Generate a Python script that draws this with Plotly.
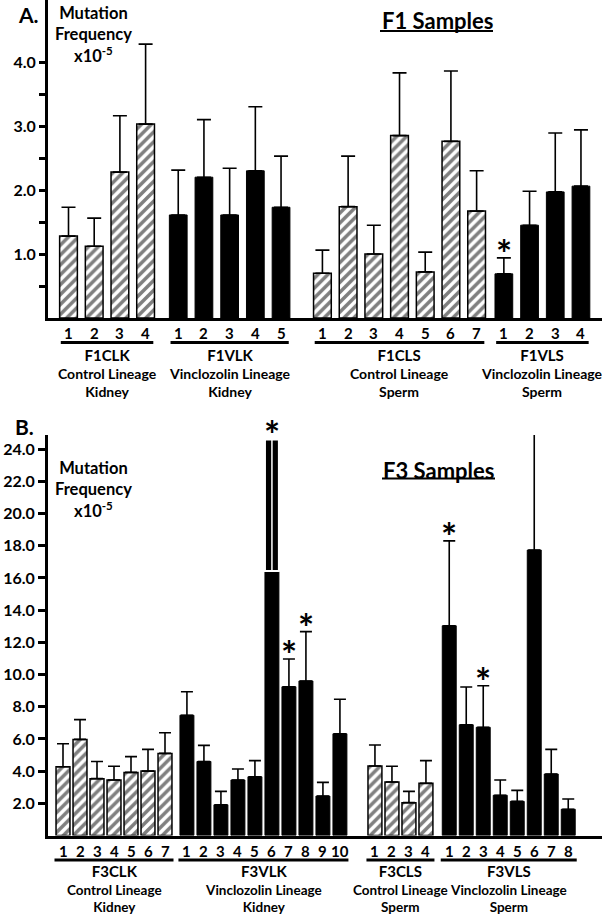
import plotly.graph_objects as go

# ---------------- data ----------------
# Panel A (F1)
f1_groups = ["F1CLK", "F1VLK", "F1CLS", "F1VLS"]
f1_lineage = ["Control Lineage", "Vinclozolin Lineage", "Control Lineage", "Vinclozolin Lineage"]
f1_tissue = ["Kidney", "Kidney", "Sperm", "Sperm"]
f1_control = [True, False, True, False]

f1_clk_mean = [1.28, 1.12, 2.28, 3.03]
f1_clk_sem = [0.45, 0.44, 0.88, 1.25]
f1_vlk_mean = [1.61, 2.20, 1.61, 2.30, 1.73]
f1_vlk_sem = [0.70, 0.90, 0.73, 1.00, 0.80]
f1_cls_mean = [0.70, 1.74, 1.00, 2.85, 0.72, 2.76, 1.67]
f1_cls_sem = [0.36, 0.79, 0.45, 0.98, 0.31, 1.10, 0.63]
f1_vls_mean = [0.69, 1.45, 1.97, 2.06]
f1_vls_sem = [0.25, 0.53, 0.92, 0.88]
f1_clk_sig = [0, 0, 0, 0]
f1_vlk_sig = [0, 0, 0, 0, 0]
f1_cls_sig = [0, 0, 0, 0, 0, 0, 0]
f1_vls_sig = [1, 0, 0, 0]

# Panel B (F3)
f3_groups = ["F3CLK", "F3VLK", "F3CLS", "F3VLS"]
f3_lineage = ["Control Lineage", "Vinclozolin Lineage", "Control Lineage", "Vinclozolin Lineage"]
f3_tissue = ["Kidney", "Kidney", "Sperm", "Sperm"]
f3_control = [True, False, True, False]

f3_clk_mean = [4.27, 5.97, 3.53, 3.45, 3.92, 4.00, 5.10]
f3_clk_sem = [1.43, 1.23, 1.07, 0.85, 0.98, 1.35, 1.28]
f3_vlk_mean = [7.47, 4.60, 1.91, 3.45, 3.65, 16.43, 9.24, 9.60, 2.45, 6.32]
f3_vlk_sem = [1.46, 1.00, 0.83, 0.68, 1.00, 8.17, 1.72, 3.06, 0.85, 2.14]
f3_vlk_broken = [0, 0, 0, 0, 0, 1, 0, 0, 0, 0]
f3_cls_mean = [4.32, 3.32, 2.04, 3.24]
f3_cls_sem = [1.30, 0.98, 0.70, 1.41]
f3_vls_mean = [13.03, 6.88, 6.72, 2.50, 2.12, 17.73, 3.82, 1.63]
f3_vls_sem = [5.27, 2.34, 2.58, 0.95, 0.68, 7.21, 1.53, 0.64]
f3_clk_sig = [0] * 7
f3_vlk_sig = [0, 0, 0, 0, 0, 1, 1, 1, 0, 0]
f3_cls_sig = [0] * 4
f3_vls_sig = [1, 0, 1, 0, 0, 1, 0, 0]

f1_ticks = [1.0, 2.0, 3.0, 4.0]
f1_minor = [0.5, 1.5, 2.5, 3.5]
f3_ticks = [2.0, 4.0, 6.0, 8.0, 10.0, 12.0, 14.0, 16.0, 18.0, 20.0, 22.0, 24.0]

# ---------------- layout constants ----------------
W, H = 602, 915
FONT = "Lato"


def px(x):
    return x / W


def py(y):
    return 1 - y / H


def positions(sizes, gaps):
    out, start = [], 0.0
    for i, n in enumerate(sizes):
        xs = [start + j for j in range(n)]
        out.append(xs)
        if i < len(gaps):
            start = xs[-1] + 1 + gaps[i]
    return out


fig = go.Figure()
annotations = []
shapes = []


def txt(x, y, s, size, xref="paper", yref="paper", bold=True, **kw):
    d = dict(x=x, y=y, xref=xref, yref=yref,
             text=("<b>%s</b>" % s) if bold else s, showarrow=False,
             xanchor="center", yanchor="middle",
             font=dict(family=FONT, size=size, color="black"))
    d.update(kw)
    annotations.append(d)


def add_panel(means, sems, sigs, control, names, lineage, tissue, gaps, xa, ya,
              bw, capw, pad, y_nums, y_uline, y_label, label_size, broken=None):
    sizes = [len(m) for m in means]
    pos = positions(sizes, gaps)
    for g in range(len(means)):
        xs = pos[g]
        m = means[g]
        s = list(sems[g])
        brk = broken[g] if broken is not None and broken[g] is not None else [0] * len(m)
        s_main = [0 if b else v for v, b in zip(s, brk)]
        if control[g]:
            marker = dict(color="black",
                          pattern=dict(shape="/", fgcolor="black", bgcolor="white",
                                       size=7, solidity=0.5),
                          line=dict(color="black", width=1.5))
        else:
            marker = dict(color="black", line=dict(color="black", width=1))
        fig.add_trace(go.Bar(
            x=xs, y=m, width=bw, marker=marker, xaxis=xa, yaxis=ya,
            error_y=dict(type="data", symmetric=False, array=s_main,
                         arrayminus=[0] * len(m), color="black",
                         thickness=1.6, width=capw),
            cliponaxis=False, showlegend=False, hoverinfo="skip"))
        # broken (off-scale) bars
        for j, b in enumerate(brk):
            if b:
                fig.add_trace(go.Bar(
                    x=[xs[j]], y=[s[j]], base=[m[j]], width=bw, xaxis=xa, yaxis=ya,
                    marker=dict(color="black", line=dict(color="white", width=2)),
                    cliponaxis=False, showlegend=False, hoverinfo="skip"))
                fig.add_trace(go.Scatter(
                    x=[xs[j], xs[j]], y=[m[j], m[j] + s[j]], mode="lines",
                    line=dict(color="white", width=1.5), xaxis=xa, yaxis=ya,
                    showlegend=False, hoverinfo="skip"))
        # significance asterisks
        for j, sg in enumerate(sigs[g]):
            if sg:
                txt(xs[j], m[j] + s[j], "*", 38, xref=xa, yref=ya, yshift=5)
        # sample numbers
        for j, xv in enumerate(xs):
            txt(xv, py(y_nums), str(j + 1), 15, xref=xa)
        # group underline and labels
        x0, x1 = xs[0] - pad, xs[-1] + pad
        shapes.append(dict(type="line", xref=xa, yref="paper", x0=x0, x1=x1,
                           y0=py(y_uline), y1=py(y_uline),
                           line=dict(color="black", width=3)))
        xc = (x0 + x1) / 2
        label = ("<b><span style='font-size:15px'>%s</span></b><br><b>%s</b><br><b>%s</b>"
                 % (names[g], lineage[g], tissue[g]))
        txt(xc, py(y_label), label, label_size, xref=xa, bold=False, align="center")


# Panel A
add_panel(
    [f1_clk_mean, f1_vlk_mean, f1_cls_mean, f1_vls_mean],
    [f1_clk_sem, f1_vlk_sem, f1_cls_sem, f1_vls_sem],
    [f1_clk_sig, f1_vlk_sig, f1_cls_sig, f1_vls_sig],
    f1_control, f1_groups, f1_lineage, f1_tissue,
    gaps=[0.27, 0.61, 0.06], xa="x", ya="y", bw=0.69, capw=7, pad=0.3,
    y_nums=332.5, y_uline=342.5, y_label=372.5, label_size=14)

# Panel B
add_panel(
    [f3_clk_mean, f3_vlk_mean, f3_cls_mean, f3_vls_mean],
    [f3_clk_sem, f3_vlk_sem, f3_cls_sem, f3_vls_sem],
    [f3_clk_sig, f3_vlk_sig, f3_cls_sig, f3_vls_sig],
    f3_control, f3_groups, f3_lineage, f3_tissue,
    gaps=[0.29, 1.06, 0.37], xa="x2", ya="y2", bw=0.82, capw=6, pad=0.5,
    y_nums=850.5, y_uline=860, y_label=888, label_size=13.5,
    broken=[None, f3_vlk_broken, None, None])

# Panel titles and y labels
txt(px(28), py(0), "A.", 21, yanchor="top")
txt(px(24), py(426), "B.", 21)
for yy in (34, 489):
    txt(px(93), py(yy), "Mutation<br>Frequency<br>x10<sup>-5</sup>", 16.5, align="center")
for lab, (xx, yy), (ux0, ux1, uy) in [("F1 Samples", (437, 20), (380, 493, 31)),
                                      ("F3 Samples", (438, 470), (382, 495, 478.5))]:
    txt(px(xx), py(yy), lab, 22)
    shapes.append(dict(type="line", xref="paper", yref="paper",
                       x0=px(ux0), x1=px(ux1), y0=py(uy), y1=py(uy),
                       line=dict(color="black", width=2)))

# slot sizes (px) used to map the axes
a_slot, a_first = 25.7, 68.5
b_slot, b_first = 17.0, 63.0
y_a_zero, y_a_unit = 318.0, 64.0
y_b_zero, y_b_unit = 835.5, 16.1

axis_common = dict(showgrid=False, zeroline=False, showline=True, linecolor="black",
                   linewidth=3)
fig.update_layout(
    width=W, height=H, margin=dict(l=0, r=0, t=0, b=0, autoexpand=False),
    paper_bgcolor="white", plot_bgcolor="white", barmode="overlay",
    showlegend=False,
    xaxis=dict(domain=[px(48), 1], anchor="y",
               range=[(48 - a_first) / a_slot, (W - a_first) / a_slot],
               showticklabels=False, ticks="", **axis_common),
    yaxis=dict(domain=[py(y_a_zero), 1], anchor="x",
               range=[0, y_a_zero / y_a_unit],
               tickmode="array", tickvals=f1_ticks,
               ticktext=["<b>%.1f</b>" % v for v in f1_ticks],
               ticks="outside", ticklen=6, tickwidth=2.5, tickcolor="black",
               minor=dict(tickmode="array", tickvals=f1_minor, ticks="outside",
                          ticklen=6, tickwidth=2.5, tickcolor="black", showgrid=False),
               tickfont=dict(family=FONT, size=16, color="black"), **axis_common),
    xaxis2=dict(domain=[px(48), 1], anchor="y2",
                range=[(48 - b_first) / b_slot, (W - b_first) / b_slot],
                showticklabels=False, ticks="", **axis_common),
    yaxis2=dict(domain=[py(y_b_zero), py(435)], anchor="x2",
                range=[0, (y_b_zero - 435) / y_b_unit],
                tickmode="array", tickvals=f3_ticks,
                ticktext=["<b>%.1f</b>" % v for v in f3_ticks],
                ticks="outside", ticklen=7, tickwidth=2.5, tickcolor="black",
                tickfont=dict(family=FONT, size=16, color="black"), **axis_common),
    annotations=annotations, shapes=shapes,
)

fig.write_html("out.html", config={"displayModeBar": False},
               post_script="document.body.style.margin='0';"
                           "document.body.style.overflow='hidden';")
